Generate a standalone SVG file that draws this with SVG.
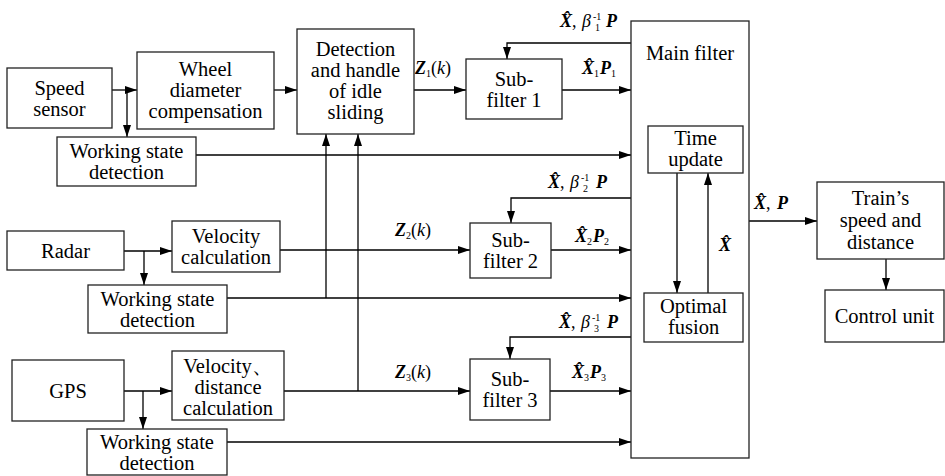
<svg xmlns="http://www.w3.org/2000/svg" width="945" height="476" viewBox="0 0 945 476">
  <defs>
    <marker id="arrow" viewBox="0 0 12 8" refX="12" refY="4" markerWidth="12" markerHeight="8" markerUnits="userSpaceOnUse" orient="auto">
      <path d="M0,0 L12,4 L0,8 z" fill="#000"/>
    </marker>
    <style>
      .box { fill: #fff; stroke: #222; stroke-width: 1.3; }
      text { font-family: 'Liberation Serif', 'Times New Roman', serif; }
      .t { font-size: 20.5px; fill: #000; text-anchor: middle; }
      .ca { fill: none; stroke: #000; stroke-width: 1.3; marker-end: url(#arrow); }
      .m { font-size: 18px; fill: #000; }
      .bi { font-weight: bold; font-style: italic; }
      .it { font-style: italic; }
      .s { font-size: 10px; }
    </style>
  </defs>
  <rect width="945" height="476" fill="#fff"/>

  <!-- connectors -->
  <g id="connectors">
    <line class="ca" x1="112" y1="90" x2="137" y2="90"/>
    <line class="ca" x1="127" y1="90" x2="127" y2="137"/>
    <line class="ca" x1="274" y1="90" x2="297" y2="90"/>
    <line class="ca" x1="414" y1="90" x2="466" y2="90"/>
    <line class="ca" x1="562" y1="90" x2="631" y2="90"/>
    <polyline class="ca" points="631,43 507,43 507,59"/>
    <line class="ca" x1="196" y1="155" x2="631" y2="155"/>

    <line class="ca" x1="124" y1="251" x2="172" y2="251"/>
    <line class="ca" x1="144" y1="251" x2="144" y2="285"/>
    <line class="ca" x1="280" y1="250" x2="470" y2="250"/>
    <polyline class="ca" points="631,198 511,198 511,223"/>
    <line class="ca" x1="551" y1="250" x2="631" y2="250"/>
    <line class="ca" x1="227" y1="298" x2="631" y2="298"/>
    <line class="ca" x1="326" y1="298" x2="326" y2="134"/>

    <line class="ca" x1="124" y1="391" x2="172" y2="391"/>
    <line class="ca" x1="143" y1="391" x2="143" y2="429"/>
    <line class="ca" x1="284" y1="391" x2="470" y2="391"/>
    <line class="ca" x1="358" y1="391" x2="358" y2="134"/>
    <polyline class="ca" points="631,337 510,337 510,359"/>
    <line class="ca" x1="550" y1="391" x2="631" y2="391"/>
    <line class="ca" x1="227" y1="442" x2="631" y2="442"/>

    <line class="ca" x1="677" y1="173" x2="677" y2="293"/>
    <line class="ca" x1="708" y1="293" x2="708" y2="173"/>
    <line class="ca" x1="749" y1="221" x2="817" y2="221"/>
    <line class="ca" x1="886" y1="259" x2="886" y2="290"/>
  </g>

  <!-- signal labels -->
  <g id="labels">
    <text class="m" x="560" y="27"><tspan class="bi">X&#x302;</tspan>,<tspan class="it" x="582">β</tspan><tspan class="s" x="593" y="20">-1</tspan><tspan class="s" x="595" y="31">1</tspan><tspan class="bi" x="606" y="27">P</tspan></text>
    <text class="m" x="582" y="74"><tspan class="bi">X&#x302;</tspan><tspan class="s" y="77">1</tspan><tspan class="bi" x="600" y="74">P</tspan><tspan class="s" y="77">1</tspan></text>
    <text class="m" x="415" y="74"><tspan class="bi">Z</tspan><tspan class="s" y="77">1</tspan><tspan y="74">(</tspan><tspan class="it">k</tspan>)</text>

    <text class="m" x="548" y="188"><tspan class="bi">X&#x302;</tspan>,<tspan class="it" x="570">β</tspan><tspan class="s" x="581" y="181">-1</tspan><tspan class="s" x="583" y="192">2</tspan><tspan class="bi" x="596" y="188">P</tspan></text>
    <text class="m" x="575" y="242"><tspan class="bi">X&#x302;</tspan><tspan class="s" y="245">2</tspan><tspan class="bi" x="593" y="242">P</tspan><tspan class="s" y="245">2</tspan></text>
    <text class="m" x="395" y="236"><tspan class="bi">Z</tspan><tspan class="s" y="239">2</tspan><tspan y="236">(</tspan><tspan class="it">k</tspan>)</text>

    <text class="m" x="559" y="328"><tspan class="bi">X&#x302;</tspan>,<tspan class="it" x="581">β</tspan><tspan class="s" x="592" y="321">-1</tspan><tspan class="s" x="594" y="332">3</tspan><tspan class="bi" x="607" y="328">P</tspan></text>
    <text class="m" x="572" y="378"><tspan class="bi">X&#x302;</tspan><tspan class="s" y="381">3</tspan><tspan class="bi" x="590" y="378">P</tspan><tspan class="s" y="381">3</tspan></text>
    <text class="m" x="395" y="378"><tspan class="bi">Z</tspan><tspan class="s" y="381">3</tspan><tspan y="378">(</tspan><tspan class="it">k</tspan>)</text>

    <text class="m" x="719" y="251"><tspan class="bi">X&#x302;</tspan></text>
    <text class="m" x="754" y="209"><tspan class="bi">X&#x302;</tspan>,<tspan class="bi" x="777">P</tspan></text>
  </g>

  <!-- speed sensor branch -->
  <g id="speed-sensor">
    <rect class="box" x="7" y="68" width="105" height="60"/>
    <text class="t" x="59.5" y="95">Speed</text>
    <text class="t" x="59.5" y="116">sensor</text>
  </g>
  <g id="wheel-compensation">
    <rect class="box" x="137" y="52" width="137" height="77"/>
    <text class="t" x="205.5" y="76">Wheel</text>
    <text class="t" x="205.5" y="97">diameter</text>
    <text class="t" x="205.5" y="118">compensation</text>
  </g>
  <g id="working-state-1">
    <rect class="box" x="57" y="137" width="139" height="49"/>
    <text class="t" x="126.5" y="158">Working state</text>
    <text class="t" x="126.5" y="179">detection</text>
  </g>
  <g id="idle-sliding">
    <rect class="box" x="297" y="29" width="117" height="105"/>
    <text class="t" x="355.5" y="56">Detection</text>
    <text class="t" x="355.5" y="77">and handle</text>
    <text class="t" x="355.5" y="98">of idle</text>
    <text class="t" x="355.5" y="119">sliding</text>
  </g>
  <g id="sub-filter-1">
    <rect class="box" x="466" y="59" width="96" height="60"/>
    <text class="t" x="514" y="86">Sub-</text>
    <text class="t" x="514" y="107">filter 1</text>
  </g>

  <!-- radar branch -->
  <g id="radar">
    <rect class="box" x="7" y="231" width="117" height="39"/>
    <text class="t" x="65.5" y="258">Radar</text>
  </g>
  <g id="velocity-calculation">
    <rect class="box" x="172" y="221" width="108" height="51"/>
    <text class="t" x="226" y="243">Velocity</text>
    <text class="t" x="226" y="264">calculation</text>
  </g>
  <g id="working-state-2">
    <rect class="box" x="88" y="285" width="139" height="48"/>
    <text class="t" x="157.5" y="306">Working state</text>
    <text class="t" x="157.5" y="327">detection</text>
  </g>
  <g id="sub-filter-2">
    <rect class="box" x="470" y="223" width="81" height="55"/>
    <text class="t" x="510.5" y="247">Sub-</text>
    <text class="t" x="510.5" y="268">filter 2</text>
  </g>

  <!-- GPS branch -->
  <g id="gps">
    <rect class="box" x="12" y="360" width="112" height="61"/>
    <text class="t" x="68" y="398">GPS</text>
  </g>
  <g id="velocity-distance">
    <rect class="box" x="172" y="351" width="112" height="69"/>
    <text class="t" x="228" y="373">Velocity、</text>
    <text class="t" x="228" y="394">distance</text>
    <text class="t" x="228" y="415">calculation</text>
  </g>
  <g id="working-state-3">
    <rect class="box" x="87" y="429" width="140" height="46"/>
    <text class="t" x="157" y="449">Working state</text>
    <text class="t" x="157" y="470">detection</text>
  </g>
  <g id="sub-filter-3">
    <rect class="box" x="470" y="359" width="80" height="61"/>
    <text class="t" x="510" y="386">Sub-</text>
    <text class="t" x="510" y="407">filter 3</text>
  </g>

  <!-- main filter -->
  <g id="main-filter">
    <rect x="631" y="21" width="118" height="437" fill="none" stroke="#222" stroke-width="1.3"/>
    <text class="t" x="690" y="60">Main filter</text>
  </g>
  <g id="time-update">
    <rect class="box" x="648" y="126" width="95" height="47"/>
    <text class="t" x="695.5" y="145">Time</text>
    <text class="t" x="695.5" y="166">update</text>
  </g>
  <g id="optimal-fusion">
    <rect class="box" x="644" y="293" width="99" height="49"/>
    <text class="t" x="693.5" y="313">Optimal</text>
    <text class="t" x="693.5" y="334">fusion</text>
  </g>

  <!-- output -->
  <g id="train-speed-distance">
    <rect class="box" x="817" y="182" width="127" height="77"/>
    <text class="t" x="880.5" y="205">Train’s</text>
    <text class="t" x="880.5" y="227">speed and</text>
    <text class="t" x="880.5" y="249">distance</text>
  </g>
  <g id="control-unit">
    <rect class="box" x="825" y="290" width="119" height="52"/>
    <text class="t" x="884.5" y="323">Control unit</text>
  </g>
</svg>
